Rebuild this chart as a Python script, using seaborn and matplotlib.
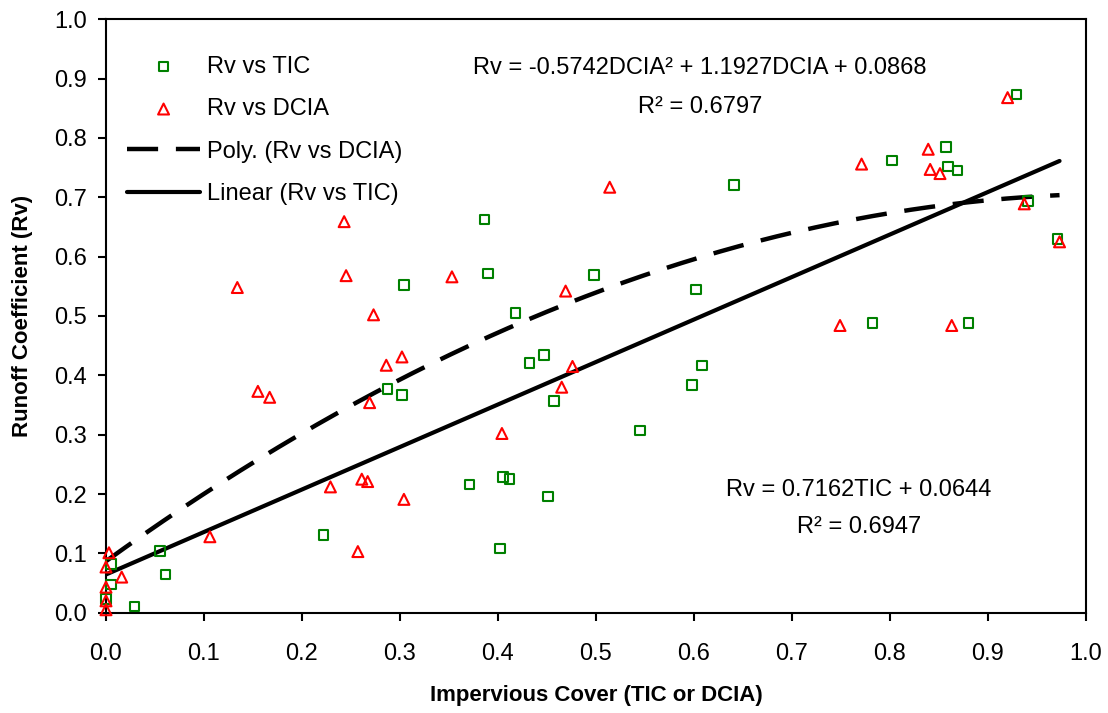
import numpy as np
import pandas as pd
import matplotlib
matplotlib.use("Agg")
import matplotlib.pyplot as plt
import seaborn as sns

# Runoff coefficient against total impervious cover (TIC)
tic_x = [0.000, 0.005, 0.005, 0.029, 0.055, 0.061, 0.222, 0.287, 0.302, 0.304,
         0.371, 0.386, 0.390, 0.402, 0.405, 0.412, 0.418, 0.432, 0.447, 0.451,
         0.457, 0.498, 0.545, 0.598, 0.602, 0.608, 0.641, 0.782, 0.802, 0.857,
         0.859, 0.869, 0.880, 0.929, 0.941, 0.971]
tic_rv = [0.023, 0.048, 0.082, 0.010, 0.104, 0.064, 0.131, 0.377, 0.367, 0.552,
          0.216, 0.663, 0.572, 0.108, 0.229, 0.225, 0.505, 0.421, 0.434, 0.196,
          0.357, 0.569, 0.307, 0.384, 0.545, 0.417, 0.721, 0.488, 0.762, 0.785,
          0.752, 0.745, 0.488, 0.873, 0.694, 0.630]

# Runoff coefficient against directly connected impervious area (DCIA)
dcia_x = [0.000, 0.000, 0.000, 0.000, 0.003, 0.016, 0.106, 0.134, 0.155, 0.167,
          0.229, 0.243, 0.245, 0.257, 0.261, 0.267, 0.269, 0.273, 0.286, 0.302,
          0.304, 0.353, 0.404, 0.465, 0.469, 0.476, 0.514, 0.749, 0.771, 0.839,
          0.841, 0.851, 0.863, 0.920, 0.937, 0.973]
dcia_rv = [0.005, 0.020, 0.043, 0.077, 0.101, 0.060, 0.128, 0.548, 0.373, 0.363,
           0.212, 0.659, 0.568, 0.103, 0.225, 0.221, 0.354, 0.502, 0.417, 0.431,
           0.191, 0.566, 0.302, 0.380, 0.542, 0.415, 0.717, 0.484, 0.756, 0.781,
           0.747, 0.740, 0.484, 0.868, 0.689, 0.625]

# Fitted trend lines
poly_coef = [-0.5742, 1.1927, 0.0868]   # Rv = a*DCIA^2 + b*DCIA + c
poly_r2 = 0.6797
lin_coef = [0.7162, 0.0644]             # Rv = m*TIC + k
lin_r2 = 0.6947

ticks = [0.0, 0.1, 0.2, 0.3, 0.4, 0.5, 0.6, 0.7, 0.8, 0.9, 1.0]

sns.set_style("ticks")
plt.rcParams["font.family"] = ["Liberation Sans", "DejaVu Sans"]
plt.rcParams["text.color"] = "black"
plt.rcParams["axes.labelcolor"] = "black"

fig = plt.figure(figsize=(11.08, 7.13), dpi=100)
ax = fig.add_axes([106 / 1108, 100.3 / 713, 980 / 1108, 593.4 / 713])

tic_df = pd.DataFrame({"x": tic_x, "rv": tic_rv})
dcia_df = pd.DataFrame({"x": dcia_x, "rv": dcia_rv})

sns.scatterplot(data=tic_df, x="x", y="rv", ax=ax, marker="s", s=46,
                facecolors="none", edgecolors="#008000", linewidths=1.5,
                label="Rv vs TIC", clip_on=False, zorder=4)
sns.scatterplot(data=dcia_df, x="x", y="rv", ax=ax, marker="^", s=62,
                facecolors="none", edgecolors="#FF0000", linewidths=1.5,
                label="Rv vs DCIA", clip_on=False, zorder=4)

# Trend lines evaluated over the observed range
xs = np.linspace(0.0, max(max(tic_x), max(dcia_x)), 200)
poly_df = pd.DataFrame({"x": xs, "rv": np.polyval(poly_coef, xs)})
lin_df = pd.DataFrame({"x": xs, "rv": np.polyval(lin_coef, xs)})
sns.lineplot(data=poly_df, x="x", y="rv", ax=ax, color="black", linewidth=3.2,
             dashes=False, label="Poly. (Rv vs DCIA)", zorder=3)
ax.lines[-1].set_dashes((7, 4))
sns.lineplot(data=lin_df, x="x", y="rv", ax=ax, color="black", linewidth=3,
             label="Linear (Rv vs TIC)", zorder=3)

ax.set_xlim(0, 1)
ax.set_ylim(0, 1)
ax.set_xticks(ticks)
ax.set_yticks(ticks)
ax.set_xticklabels([f"{t:.1f}" for t in ticks])
ax.set_yticklabels([f"{t:.1f}" for t in ticks])
ax.tick_params(axis="both", direction="out", length=6, width=1.5,
               labelsize=17, colors="black")
ax.tick_params(axis="x", pad=16)
ax.tick_params(axis="y", pad=8)
for sp in ax.spines.values():
    sp.set_visible(True)
    sp.set_linewidth(1.5)
    sp.set_color("black")

ax.set_xlabel("Impervious Cover (TIC or DCIA)", fontsize=16, fontweight="bold",
              color="black")
ax.set_ylabel("Runoff Coefficient (Rv)", fontsize=16, fontweight="bold",
              color="black")
ax.xaxis.label.set_va("center")
ax.yaxis.label.set_va("center")
ax.xaxis.set_label_coords(0.5, -0.139)
ax.yaxis.set_label_coords(-0.0857, 0.5)

a, b, c = poly_coef
ax.text(0.606, 0.918,
        f"Rv = {a:.4f}DCIA² + {b:.4f}DCIA + {c:.4f}",
        transform=ax.transAxes, ha="center", va="center", fontsize=17)
ax.text(0.606, 0.852, f"R² = {poly_r2:.4f}",
        transform=ax.transAxes, ha="center", va="center", fontsize=17)
m, k = lin_coef
ax.text(0.768, 0.207, f"Rv = {m:.4f}TIC + {k:.4f}",
        transform=ax.transAxes, ha="center", va="center", fontsize=17)
ax.text(0.768, 0.144, f"R² = {lin_r2:.4f}",
        transform=ax.transAxes, ha="center", va="center", fontsize=17)

handles, labels = ax.get_legend_handles_labels()
ax.legend(handles, labels, loc="upper left", bbox_to_anchor=(0.0214, 0.9387),
          frameon=False, fontsize=17, handlelength=3.1, handletextpad=0.3,
          labelspacing=0.87, borderpad=0, borderaxespad=0, scatterpoints=1)

fig.savefig("out.png", dpi=100)
